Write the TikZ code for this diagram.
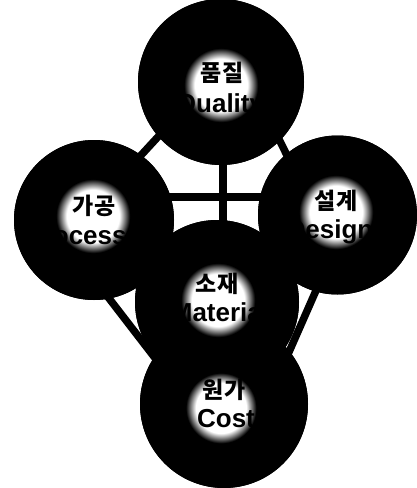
\documentclass[tikz,border=0pt]{standalone}
\usepackage{fontspec}
\setmainfont{Liberation Sans}
\newfontfamily\kr{Noto Sans CJK KR}
\pgfdeclareradialshading{glow}{\pgfpoint{0bp}{0bp}}{color(0bp)=(white); color(15bp)=(white); color(21bp)=(black); color(50bp)=(black)}
\tikzset{
  ball/.style={circle, fill=black, inner sep=0pt, minimum size=#1},
  link/.style={line width=7.5pt, black, shorten <=-8pt, shorten >=-8pt},
  krlabel/.style={anchor=center, inner sep=0pt, font=\kr\bfseries\fontsize{23}{23}\selectfont, text=black},
  enlabel/.style={anchor=base, inner sep=0pt, font=\bfseries\fontsize{26}{26}\selectfont, text=black},
}
\begin{document}
\begin{tikzpicture}[x=1pt, y=-1pt]
\fill[white] (0,0) rectangle (417,488);
\useasboundingbox (0,0) rectangle (417,488);
% circles (named, drawn later on top of links)
\path
  (221,82)    node[ball=166pt] (Q) {}
  (94,220)    node[ball=160pt] (P) {}
  (337.5,215) node[ball=159pt] (D) {}
  (217,302)   node[ball=164pt] (M) {}
  (224,404)   node[ball=168pt] (C) {};
% links
\draw[link] (P.54) -- (Q.221);
\draw[link] (Q.-45) -- (D.130);
\draw[line width=7.5pt] ([xshift=2pt]Q.center) -- ([xshift=6pt]M.center);
\draw[line width=7.5pt] ([yshift=23pt]P.center) -- ([yshift=18pt]D.center);
\draw[link] (P.281) -- (C.146);
\draw[link] (D.254) -- (C.39);
% circles on top
\fill[black] (Q.center) circle (83pt);
\fill[black] (P.center) circle (80pt);
\fill[black] (D.center) circle (79.5pt);
\fill[black] (M.center) circle (82pt);
\fill[black] (C.center) circle (84pt);
% glows
\shade[shading=glow] (221,85) circle (44pt);
\shade[shading=glow] (93,216) circle (44pt);
\shade[shading=glow] (336,212) circle (44pt);
\shade[shading=glow] (218,300) circle (44pt);
\shade[shading=glow] (221,408) circle (42pt);
% labels
\node[krlabel] (qk) at (222,73) {품질};
\node[enlabel] (qe) at (220,112) {Quality};
\node[krlabel] (pk) at (94,206) {가공};
\node[enlabel] (pe) at (76,244) {Process};
\node[krlabel] (dk) at (336,201) {설계};
\node[enlabel] (de) at (330,238) {Design};
\node[krlabel] (mk) at (217,284) {소재};
\node[enlabel] (me) at (220,321) {Material};
\node[krlabel] (ck) at (224,390) {원가};
\node[enlabel] (ce) at (226,427) {Cost};
\end{tikzpicture}
\end{document}
